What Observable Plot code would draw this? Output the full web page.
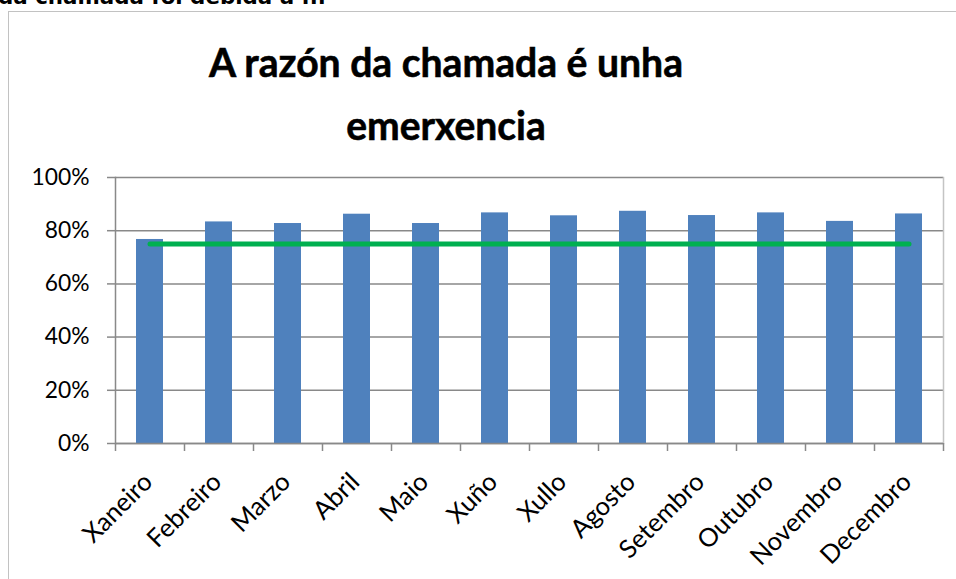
<!DOCTYPE html>
<html>
<head>
<meta charset="utf-8">
<script src="https://cdn.jsdelivr.net/npm/d3@7"></script>
<script src="https://cdn.jsdelivr.net/npm/@observablehq/plot@0.6"></script>
<style>
  html, body { margin: 0; padding: 0; background: #fff; overflow: hidden; width: 956px; height: 579px; }
  #wrap { position: relative; width: 956px; height: 579px; overflow: hidden; }
  #frame { position: absolute; left: 8px; top: 11px; width: 1200px; height: 800px; border-left: 1.5px solid #c2c2c2; border-top: 1.5px solid #c2c2c2; }
  #chart { position: absolute; left: 0; top: 0; }
  #overlay { position: absolute; left: 0; top: 0; pointer-events: none; }
</style>
</head>
<body>
<div id="wrap">
  <div id="frame"></div>
  <div id="chart"></div>
  <svg id="overlay" width="956" height="579"></svg>
</div>
<script>
// ---- data ----
const months = ["Xaneiro","Febreiro","Marzo","Abril","Maio","Xuño","Xullo","Agosto","Setembro","Outubro","Novembro","Decembro"];
const rates = [76.7, 83.3, 82.7, 86.2, 82.7, 86.7, 85.6, 87.3, 85.7, 86.7, 83.5, 86.3];
const targetRate = 75;
const yTicks = [0, 20, 40, 60, 80, 100];
const titleLines = ["A razón da chamada é unha", "emerxencia"];
const headingText = "da chamada foi debida a ...";

// ---- font fitting ----
const FONT = "Lato, 'Open Sans', sans-serif";
const ctx = document.createElement("canvas").getContext("2d");
function measure(text, weight, family, size) {
  ctx.font = `${weight} ${size}px ${family}`;
  return ctx.measureText(text).width;
}
function fit(text, weight, family, target) {
  return 100 * target / measure(text, weight, family, 100);
}
const W = 956, H = 579, mL = 115, mR = 13, mT = 177, mB = 136;
const step = (W - mL - mR) / months.length;

const tickFs = fit("100%", "normal", FONT, 58);
const labFs = fit("Xaneiro", "normal", FONT, 86);
const titleFs = 40.5;
const headFs = fit(headingText, "bold", "'DejaVu Sans'", 328);

const data = months.map((m, i) => ({month: m, rate: rates[i]}));
const grid = "#898989";

const chart = Plot.plot({
  width: W, height: H,
  marginTop: mT, marginLeft: mL, marginRight: mR, marginBottom: mB,
  style: {fontFamily: FONT, fontSize: tickFs + "px", color: "#000", background: "transparent", overflow: "visible"},
  x: {domain: months, paddingInner: 0.61, paddingOuter: 0.305, axis: null},
  y: {domain: [0, 100], axis: null},
  marks: [
    Plot.ruleY(yTicks, {stroke: grid, strokeWidth: 1.5}),
    Plot.frame({anchor: "right", stroke: "#c4c4c4", strokeWidth: 1.5}),
    Plot.barY(data, {x: "month", y: "rate", fill: "#4f81bd"}),
    Plot.ruleY([0], {stroke: grid, strokeWidth: 1.5}),
    Plot.frame({anchor: "left", stroke: grid, strokeWidth: 1.5}),
    Plot.axisY({ticks: yTicks, tickSize: 8, tickPadding: 18, tickFormat: d => d + "%", stroke: grid, strokeWidth: 1.5, fontSize: tickFs, label: null}),
    Plot.axisX({tickSize: 8, tickFormat: () => "", dx: -step / 2, stroke: grid, strokeWidth: 1.5, label: null}),
    Plot.axisX({ticks: [months[months.length - 1]], tickSize: 8, tickFormat: () => "", dx: step / 2, stroke: grid, strokeWidth: 1.5, label: null}),
    Plot.lineY(months, {x: d => d, y: () => targetRate, stroke: "#00b050", strokeWidth: 5, strokeLinecap: "round"}),
    Plot.text(months, {x: d => d, text: d => d, frameAnchor: "bottom", rotate: -45, textAnchor: "end", dy: 40, dx: 4, fontSize: labFs, fill: "#000"})
  ]
});
document.getElementById("chart").appendChild(chart);

// ---- title and clipped heading ----
const ov = d3.select("#overlay");
ov.append("text").attr("x", -2).attr("y", 4).attr("font-family", "'DejaVu Sans', sans-serif")
  .attr("font-weight", "bold").attr("font-size", headFs).attr("fill", "#000").text(headingText);
const ty = [77, 140];
const ratio = 474 / measure(titleLines[0], "bold", FONT, titleFs);
titleLines.forEach((t, i) => {
  ov.append("text").attr("x", 446).attr("y", ty[i]).attr("text-anchor", "middle")
    .attr("font-family", FONT).attr("font-weight", "bold").attr("font-size", titleFs)
    .attr("textLength", measure(t, "bold", FONT, titleFs) * ratio)
    .attr("lengthAdjust", "spacingAndGlyphs")
    .attr("stroke", "#000").attr("stroke-width", 0.6)
    .attr("fill", "#000").text(t);
});
</script>
</body>
</html>
